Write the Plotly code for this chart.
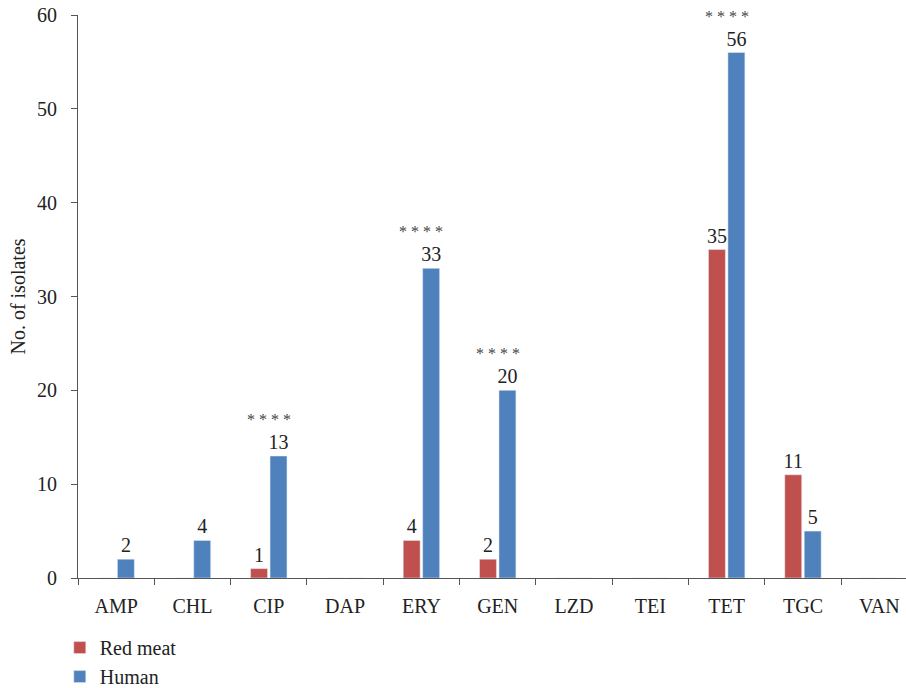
import plotly.graph_objects as go

categories = ["AMP", "CHL", "CIP", "DAP", "ERY", "GEN", "LZD", "TEI", "TET", "TGC", "VAN"]
red_meat = [0, 0, 1, 0, 4, 2, 0, 0, 35, 11, 0]
human = [2, 4, 13, 0, 33, 20, 0, 0, 56, 5, 0]
significance = ["", "", "****", "", "****", "****", "", "", "****", "", ""]
y_ticks = [0, 10, 20, 30, 40, 50, 60]

RED = "#C0504D"
BLUE = "#4F81BD"
FONT = "Liberation Serif"
AXIS = "#555555"
TXT = "#222222"

def labels(vals):
    return [str(v) if v else "" for v in vals]

fig = go.Figure()
fig.add_trace(go.Bar(name="Red meat", x=categories, y=red_meat, marker_color=RED,
                     text=labels(red_meat), textposition="outside", constraintext="none",
                     textfont=dict(family=FONT, size=20, color=TXT),
                     cliponaxis=False))
fig.add_trace(go.Bar(name="Human", x=categories, y=human, marker_color=BLUE,
                     text=labels(human), textposition="outside", constraintext="none",
                     textfont=dict(family=FONT, size=20, color=TXT),
                     cliponaxis=False))

for c, s, r, h in zip(categories, significance, red_meat, human):
    if s:
        fig.add_annotation(x=c, y=max(r, h), text=" ".join(s), showarrow=False,
                           yanchor="bottom", yshift=26,
                           font=dict(family=FONT, size=16, color="#444444"))

fig.update_layout(
    width=906, height=688,
    margin=dict(l=78, r=0, t=15, b=110, autoexpand=False),
    paper_bgcolor="white", plot_bgcolor="white",
    barmode="group", bargap=0.49, bargroupgap=0.13,
    font=dict(family=FONT, size=20, color=TXT),
    showlegend=True,
    legend=dict(orientation="v", x=-0.022, xanchor="left", y=-0.089, yanchor="top",
                font=dict(family=FONT, size=20, color=TXT),
                tracegroupgap=0, itemwidth=30),
)
fig.update_xaxes(range=[-0.5, 10.35], showline=True, linecolor=AXIS, linewidth=1,
                 ticks="outside", tickson="boundaries", ticklen=6, tickcolor=AXIS,
                 showgrid=False, zeroline=False, ticklabelstandoff=10, automargin=False,
                 ticklabeloverflow="allow",
                 tickfont=dict(family=FONT, size=20, color=TXT))
fig.update_yaxes(range=[0, 60], tickvals=y_ticks, showline=True, linecolor=AXIS, linewidth=1,
                 ticks="outside", ticklen=6, tickcolor=AXIS, showgrid=False, zeroline=False,
                 ticklabelstandoff=10, automargin=False, ticklabeloverflow="allow",
                 tickfont=dict(family=FONT, size=20, color=TXT),
                 title=dict(text="No. of isolates", font=dict(family=FONT, size=20, color=TXT),
                            standoff=6))

fig.write_html("out.html", config={"displayModeBar": False},
               post_script="document.body.style.margin='0';document.body.style.overflow='hidden';")
